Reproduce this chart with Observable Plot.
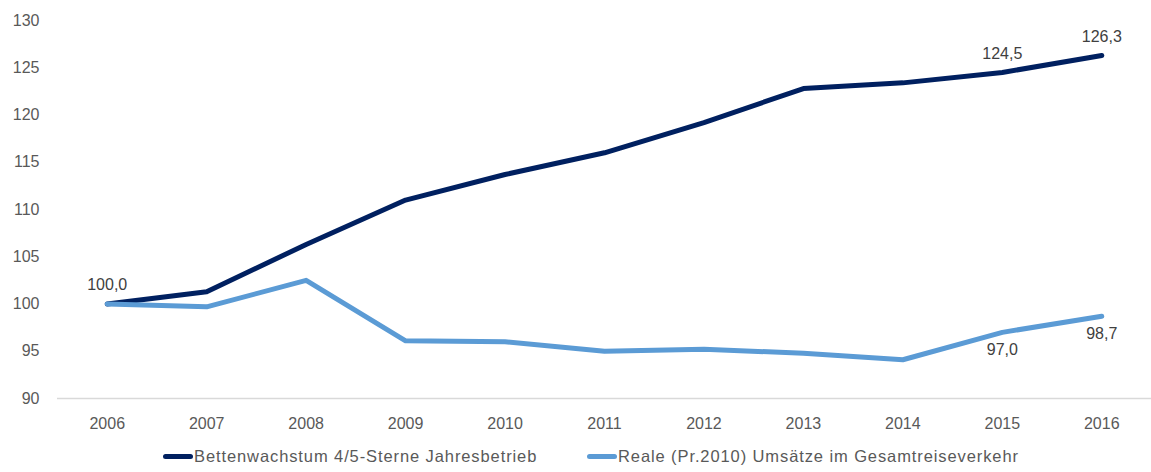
<!DOCTYPE html>
<html>
<head>
<meta charset="utf-8">
<script src="https://cdn.jsdelivr.net/npm/d3@7"></script>
<script src="https://cdn.jsdelivr.net/npm/@observablehq/plot@0.6"></script>
<style>
  body { margin: 0; background: #fff; font-family: "Liberation Sans", Arial, sans-serif; }
  #chart { width: 1151px; }
  .legend { position: relative; height: 32px; font-size: 16.5px; color: #595959; }
  .item { position: absolute; top: 7px; display: flex; align-items: center; white-space: nowrap; }
  .item span.tx { letter-spacing: 0.9px; }
  .sw { width: 30px; height: 5px; border-radius: 3px; margin-right: 1px; }
</style>
</head>
<body>
<div id="chart"></div>
<script>
const years = [2006, 2007, 2008, 2009, 2010, 2011, 2012, 2013, 2014, 2015, 2016];
const betten = [100.0, 101.3, 106.3, 111.0, 113.7, 116.0, 119.2, 122.8, 123.4, 124.5, 126.3];
const umsaetze = [100.0, 99.7, 102.5, 96.1, 96.0, 95.0, 95.2, 94.8, 94.1, 97.0, 98.7];
const seriesNames = ["Bettenwachstum 4/5-Sterne Jahresbetrieb", "Reale (Pr.2010) Umsätze im Gesamtreiseverkehr"];
const colors = ["#002060", "#5B9BD5"];
const yTicks = [90, 95, 100, 105, 110, 115, 120, 125, 130];
// labelled points: [series index, year]
const labelled = [[0, 2006], [0, 2015], [0, 2016], [1, 2015], [1, 2016]];

const rows = [];
years.forEach((yr, i) => {
  rows.push({year: yr, value: betten[i], series: seriesNames[0]});
  rows.push({year: yr, value: umsaetze[i], series: seriesNames[1]});
});
const fmt = v => v.toFixed(1).replace(".", ",");
const labAbove = labelled.filter(d => d[0] === 0).map(([s, yr]) => ({year: yr, value: betten[years.indexOf(yr)]}));
const labBelow = labelled.filter(d => d[0] === 1).map(([s, yr]) => ({year: yr, value: umsaetze[years.indexOf(yr)]}));

const plot = Plot.plot({
  width: 1151,
  height: 440,
  marginTop: 20,
  marginBottom: 42,
  marginLeft: 57,
  marginRight: 0,
  style: {fontFamily: "Liberation Sans, Arial, sans-serif", fontSize: "16px", color: "#595959", background: "#fff"},
  x: {domain: [2005.5, 2016.5], ticks: years, tickFormat: d => String(d), tickSize: 0, tickPadding: 19, label: null},
  y: {domain: [90, 130], ticks: yTicks, tickSize: 0, tickPadding: 18, label: null},
  color: {domain: seriesNames, range: colors},
  marks: [
    Plot.ruleY([90], {stroke: "#d9d9d9", strokeWidth: 1.5}),
    Plot.line(rows, {x: "year", y: "value", z: "series", stroke: "series", strokeWidth: 5, strokeLinecap: "round", strokeLinejoin: "round"}),
    Plot.text(labAbove, {x: "year", y: "value", text: d => fmt(d.value), dy: -19, fill: "#404040", fontSize: 16}),
    Plot.text(labBelow, {x: "year", y: "value", text: d => fmt(d.value), dy: 18, fill: "#404040", fontSize: 16})
  ]
});
document.getElementById("chart").appendChild(plot);

const legend = document.createElement("div");
legend.className = "legend";
const lefts = [163, 587];
seriesNames.forEach((name, i) => {
  const it = document.createElement("div");
  it.className = "item";
  it.style.left = lefts[i] + "px";
  const sw = document.createElement("span");
  sw.className = "sw";
  sw.style.background = colors[i];
  const tx = document.createElement("span");
  tx.className = "tx";
  tx.textContent = name;
  it.appendChild(sw); it.appendChild(tx);
  legend.appendChild(it);
});
document.getElementById("chart").appendChild(legend);
</script>
</body>
</html>
